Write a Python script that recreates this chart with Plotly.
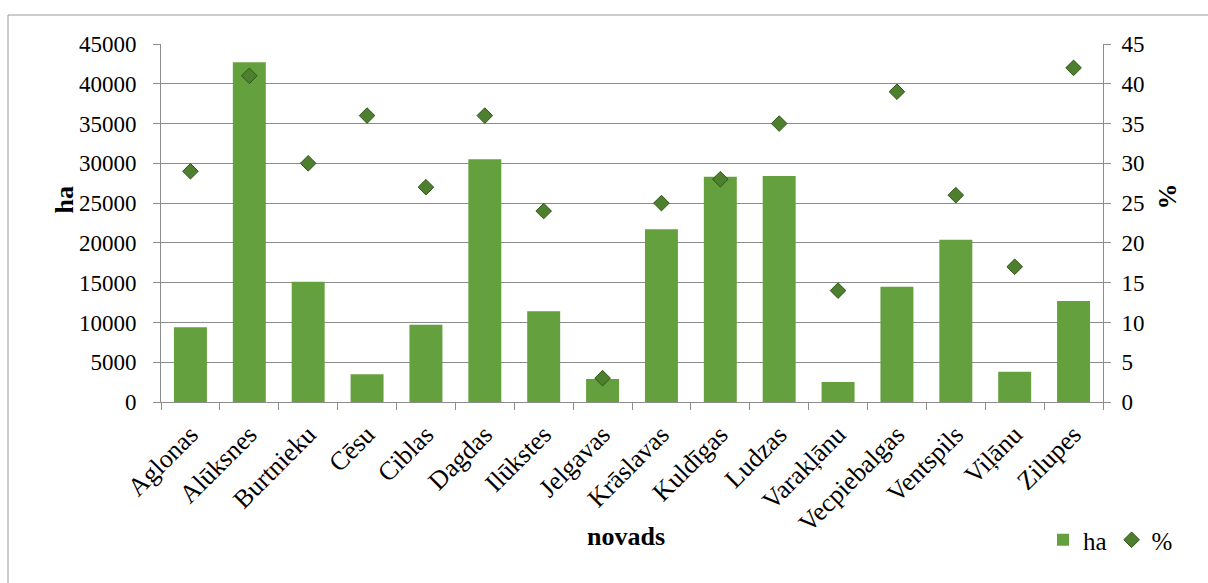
import plotly.graph_objects as go

categories = ["Aglonas", "Alūksnes", "Burtnieku", "Cēsu", "Ciblas", "Dagdas", "Ilūkstes",
              "Jelgavas", "Krāslavas", "Kuldīgas", "Ludzas", "Varakļānu", "Vecpiebalgas",
              "Ventspils", "Viļānu", "Zilupes"]
ha_values = [9400, 42700, 15100, 3500, 9700, 30500, 11400, 2900, 21700, 28300, 28400,
             2500, 14500, 20400, 3800, 12700]
pct_values = [29, 41, 30, 36, 27, 36, 24, 3, 25, 28, 35, 14, 39, 26, 17, 42]
left_ticks = [0, 5000, 10000, 15000, 20000, 25000, 30000, 35000, 40000, 45000]
right_ticks = [0, 5, 10, 15, 20, 25, 30, 35, 40, 45]

FONT = "Liberation Serif"
GRID = "#8c8c8c"

fig = go.Figure()
fig.add_trace(go.Bar(
    x=categories, y=ha_values, name="ha",
    marker=dict(color="#65a03e", line=dict(width=0)),
    width=0.56,
))
fig.add_trace(go.Scatter(
    x=categories, y=pct_values, name="%", yaxis="y2", mode="markers",
    marker=dict(symbol="diamond", size=12, color="#4e7f2e",
                line=dict(color="#2f5719", width=1)),
))

W, H = 1208, 583
L, R, T, B = 161, 1103, 44, 402


def px_x(x):
    return (x - L) / (R - L)


def px_y(y):
    return (B - y) / (B - T)


fig.update_layout(
    width=W, height=H,
    margin=dict(l=L, r=W - R, t=T, b=H - B, autoexpand=False),
    paper_bgcolor="white", plot_bgcolor="white",
    font=dict(family=FONT, size=23, color="black"),
    showlegend=True,
    bargap=0.44,
    xaxis=dict(
        type="category", tickangle=-45, tickson="boundaries", automargin=False,
        range=[-0.5, len(categories) - 0.5], ticklabelstandoff=6,
        ticks="outside", ticklen=7, tickcolor=GRID,
        showline=True, linecolor=GRID, linewidth=1,
        showgrid=False, tickfont=dict(family=FONT, size=26),
    ),
    yaxis=dict(
        range=[0, 45000], tickvals=left_ticks, ticktext=[str(v) for v in left_ticks],
        ticks="outside", ticklen=7, tickcolor=GRID, automargin=False,
        ticklabelstandoff=12,
        showline=True, linecolor=GRID, linewidth=1,
        showgrid=True, gridcolor=GRID, gridwidth=1, zeroline=False,
        tickfont=dict(family=FONT, size=23),
    ),
    yaxis2=dict(
        overlaying="y", side="right", automargin=False,
        range=[0, 45], tickvals=right_ticks, ticktext=[str(v) for v in right_ticks],
        ticks="outside", ticklen=7, tickcolor=GRID, ticklabelstandoff=6,
        showline=True, linecolor=GRID, linewidth=1,
        showgrid=False, zeroline=False,
        tickfont=dict(family=FONT, size=23),
    ),
    legend=dict(
        orientation="h", x=px_x(1178), xanchor="right", y=px_y(540), yanchor="middle",
        font=dict(family=FONT, size=25), bgcolor="rgba(0,0,0,0)",
        itemwidth=30, tracegroupgap=0,
    ),
    shapes=[dict(
        type="rect", xref="paper", yref="paper",
        x0=px_x(8), x1=px_x(1230), y0=px_y(600), y1=px_y(15),
        line=dict(color="#9a9a9a", width=1), fillcolor="rgba(0,0,0,0)", layer="below",
    )],
    annotations=[
        dict(text="<b>ha</b>", xref="paper", yref="paper", x=px_x(47), y=px_y(200),
             showarrow=False, textangle=-90, font=dict(family=FONT, size=26)),
        dict(text="<b>%</b>", xref="paper", yref="paper", x=px_x(1183), y=px_y(197),
             showarrow=False, textangle=-90, font=dict(family=FONT, size=26)),
        dict(text="<b>novads</b>", xref="paper", yref="paper", x=px_x(626), y=px_y(553),
             showarrow=False, font=dict(family=FONT, size=26)),
    ],
)

fig.write_html("out.html")
